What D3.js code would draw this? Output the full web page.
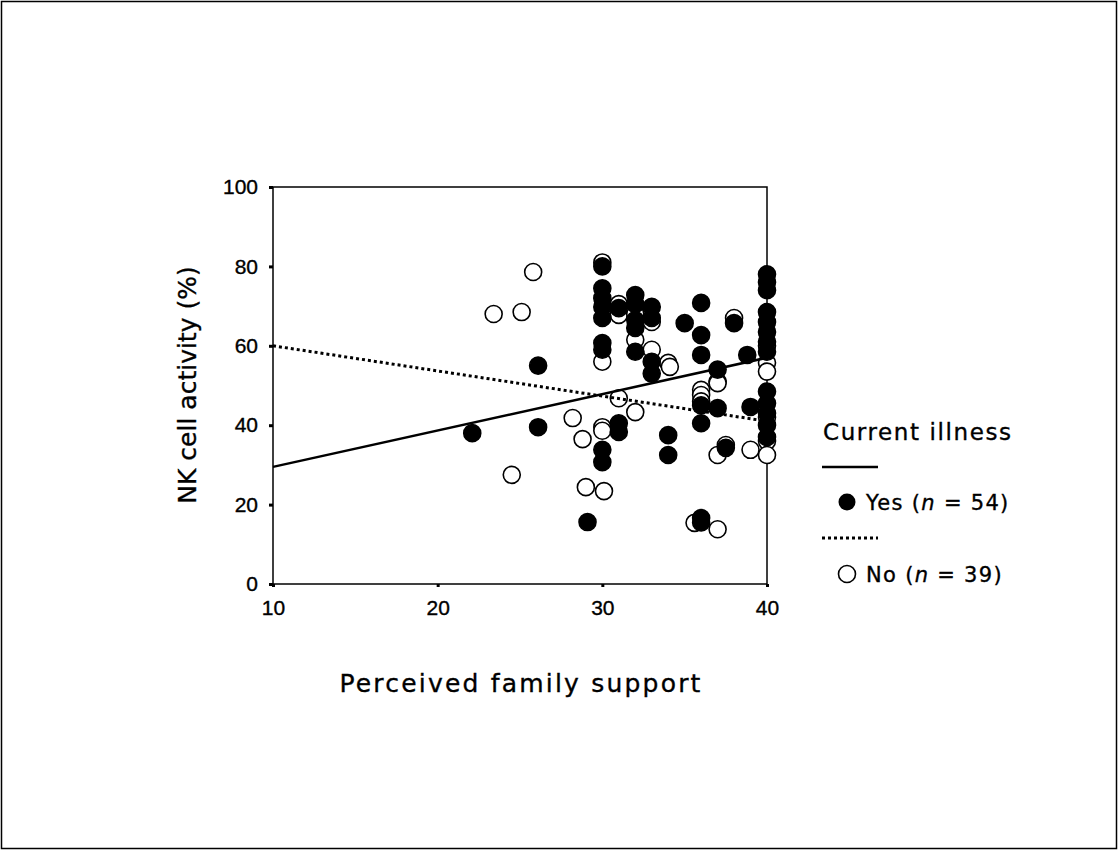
<!DOCTYPE html>
<html>
<head>
<meta charset="utf-8">
<script src="https://cdn.jsdelivr.net/npm/d3@7"></script>
<style>
  body { margin: 0; background: #fff; }
  svg { display: block; }
  text { font-family: "DejaVu Sans", Arial, sans-serif; fill: #000; stroke: #000; stroke-width: 0.35px; }
</style>
</head>
<body>
<div id="chart"></div>
<script>
// current illness: yes  [family support, NK cell activity %]
const yesPoints = [
    [22.1, 38], [26.1, 55], [26.1, 39.5], [29.1, 15.6],
    [30, 80], [30, 74.5], [30, 72], [30, 69.8], [30, 67], [30, 60.7], [30, 59], [30, 33.8], [30, 30.7],
    [31, 69.5], [31, 40.5], [31, 38.3],
    [32, 72.8], [32, 70.5], [32, 66.5], [32, 64.5], [32, 58.5],
    [33, 69.8], [33, 67], [33, 56], [33, 53],
    [34, 37.5], [34, 32.5], [35, 65.7],
    [36, 70.8], [36, 62.7], [36, 57.7], [36, 45], [36, 40.5], [36, 16.6], [36, 15.5],
    [37, 54], [37, 44.3], [37.5, 34.3], [38, 65.7], [38.8, 57.7], [39, 44.6],
    [40, 78], [40, 76], [40, 74], [40, 68.5], [40, 66], [40, 63.5], [40, 61], [40, 58.5],
    [40, 48.5], [40, 45.5], [40, 43], [40, 40], [40, 37]
];
// current illness: no
const noPoints = [
    [23.4, 68], [25.1, 68.5], [25.8, 78.6], [24.5, 27.5],
    [28.2, 41.8], [28.8, 36.5], [29, 24.4], [30.1, 23.4],
    [30, 81], [30, 56], [30, 39.5], [30, 38.6],
    [31, 70.5], [31, 67.8], [31, 46.8],
    [32, 68], [32, 61.5], [32, 43.3],
    [33, 66], [33, 59], [34, 55.7], [34.1, 54.7],
    [35.6, 15.4], [36, 48.9], [36, 47.6], [36, 46],
    [37, 51], [37, 50.6], [37, 32.5], [37, 13.8], [37.5, 35],
    [38, 67], [39, 33.8],
    [40, 60], [40, 55.7], [40, 53.5], [40, 42], [40, 36], [40, 32.5]
];
// fitted lines, [x, y] at both ends
const yesLine = [[10, 29.5], [40, 57]];
const noLine = [[10, 60], [40, 41]];

const xTicks = [10, 20, 30, 40];
const yTicks = [0, 20, 40, 60, 80, 100];

const width = 1118;
const height = 850;
const margin = { top: 187, left: 273, bottom: 266, right: 351 };
const plotW = width - margin.left - margin.right;
const plotH = height - margin.top - margin.bottom;

const svg = d3.select('#chart')
    .append('svg')
    .attr('width', width)
    .attr('height', height);

// outer frame
svg.append('rect')
    .attr('x', 1.5).attr('y', 1.5)
    .attr('width', width - 3).attr('height', height - 3)
    .attr('fill', 'none')
    .attr('stroke', '#000')
    .attr('stroke-width', 1.5);

const g = svg.append('g')
    .attr('transform', `translate(${margin.left}, ${margin.top})`);

const x = d3.scaleLinear().domain([10, 40]).range([0, plotW]);
const y = d3.scaleLinear().domain([0, 100]).range([plotH, 0]);

// plot box
g.append('rect')
    .attr('width', plotW)
    .attr('height', plotH)
    .attr('fill', 'none')
    .attr('stroke', '#000')
    .attr('stroke-width', 1.5);

const xAxis = g.append('g')
    .attr('transform', `translate(0, ${plotH})`)
    .call(d3.axisBottom(x).tickValues(xTicks).tickSize(3).tickPadding(13));
const yAxis = g.append('g')
    .call(d3.axisLeft(y).tickValues(yTicks).tickSize(4).tickPadding(11));

[xAxis, yAxis].forEach((ax) => {
    ax.select('.domain').remove();
    ax.selectAll('.tick line').attr('stroke', '#000').attr('stroke-width', 3);
    ax.selectAll('.tick text')
        .attr('font-size', 21)
        .style('font-family', '"Liberation Sans", Arial, sans-serif');
});

const r = 8.5;

g.selectAll('.no')
    .data(noPoints)
    .enter()
    .append('circle')
    .attr('class', 'no')
    .attr('cx', (d) => x(d[0]))
    .attr('cy', (d) => y(d[1]))
    .attr('r', r)
    .attr('fill', '#fff')
    .attr('stroke', '#000')
    .attr('stroke-width', 1.6);

g.selectAll('.yes')
    .data(yesPoints)
    .enter()
    .append('circle')
    .attr('class', 'yes')
    .attr('cx', (d) => x(d[0]))
    .attr('cy', (d) => y(d[1]))
    .attr('r', r)
    .attr('fill', '#000')
    .attr('stroke', '#000')
    .attr('stroke-width', 1.6);

const line = d3.line()
    .x((d) => x(d[0]))
    .y((d) => y(d[1]));

g.append('path')
    .attr('d', line(yesLine))
    .attr('fill', 'none')
    .attr('stroke', '#000')
    .attr('stroke-width', 2.5);

g.append('path')
    .attr('d', line(noLine))
    .attr('fill', 'none')
    .attr('stroke', '#000')
    .attr('stroke-width', 3)
    .attr('stroke-dasharray', '3,3');

// axis titles
svg.append('text')
    .attr('x', 521)
    .attr('y', 692)
    .attr('text-anchor', 'middle')
    .attr('font-size', 25)
    .attr('letter-spacing', 2.2)
    .text('Perceived family support');

svg.append('text')
    .attr('transform', 'translate(196, 385) rotate(-90)')
    .attr('text-anchor', 'middle')
    .attr('font-size', 25)
    .text('NK cell activity (%)');

// legend
const legend = svg.append('g').attr('transform', 'translate(822, 0)');
legend.append('text')
    .attr('x', 1).attr('y', 440)
    .attr('font-size', 23)
    .attr('letter-spacing', 1.6)
    .text('Current illness');

legend.append('line')
    .attr('x1', 0).attr('x2', 56)
    .attr('y1', 467).attr('y2', 467)
    .attr('stroke', '#000').attr('stroke-width', 2.5);
legend.append('circle')
    .attr('cx', 25).attr('cy', 502).attr('r', r)
    .attr('fill', '#000');
const yesText = legend.append('text')
    .attr('x', 44).attr('y', 510)
    .attr('font-size', 21)
    .attr('letter-spacing', 1.3);
yesText.append('tspan').text('Yes (');
yesText.append('tspan').attr('font-style', 'italic').text('n');
yesText.append('tspan').text(' = 54)');

legend.append('line')
    .attr('x1', 0).attr('x2', 56)
    .attr('y1', 538).attr('y2', 538)
    .attr('stroke', '#000').attr('stroke-width', 3)
    .attr('stroke-dasharray', '3,3');
legend.append('circle')
    .attr('cx', 25).attr('cy', 574).attr('r', r)
    .attr('fill', '#fff').attr('stroke', '#000').attr('stroke-width', 1.6);
const noText = legend.append('text')
    .attr('x', 44).attr('y', 582)
    .attr('font-size', 21)
    .attr('letter-spacing', 1.3);
noText.append('tspan').text('No (');
noText.append('tspan').attr('font-style', 'italic').text('n');
noText.append('tspan').text(' = 39)');
</script>
</body>
</html>
